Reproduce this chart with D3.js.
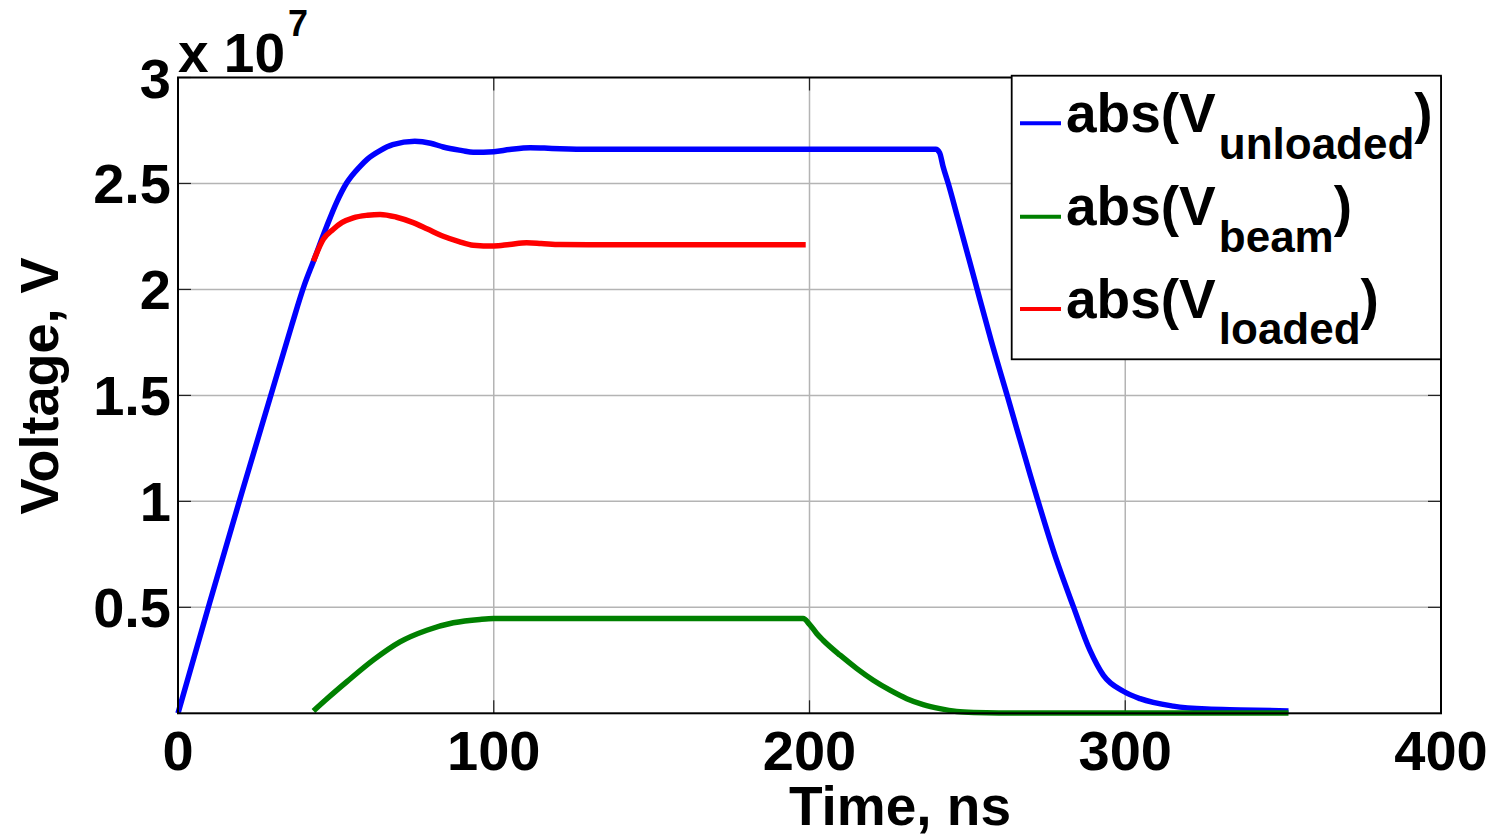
<!DOCTYPE html>
<html>
<head>
<meta charset="utf-8">
<script src="https://cdn.jsdelivr.net/npm/d3@7"></script>
<style>
  html, body { margin: 0; padding: 0; background: #fff; }
  svg { display: block; }
  text { font-family: "Liberation Sans", Arial, sans-serif; font-weight: bold; fill: #000; }
</style>
</head>
<body>
<svg id="chart" width="1497" height="837"></svg>
<script>
// Voltages are in units of 1e7 V, time in ns.
const tUnloaded = [0, 10, 20, 30, 36, 40, 42.9, 47.1, 50.2, 53.4, 57.6, 60, 64, 68, 75, 80, 84, 90, 93.5, 100, 105, 111.5, 116, 121, 130, 240, 241.2, 242.3, 243.9, 246.9, 252.2, 257.5, 262.8, 270, 278.3, 283.6, 288.8, 293.1, 299.4, 304.7, 315.2, 325.8, 336.4, 351.7];
const vUnloaded = [0, 0.52, 1.03, 1.53, 1.83, 2.02, 2.133, 2.298, 2.41, 2.502, 2.58, 2.615, 2.655, 2.683, 2.699, 2.69, 2.672, 2.655, 2.647, 2.65, 2.66, 2.669, 2.667, 2.664, 2.661, 2.661, 2.645, 2.58, 2.502, 2.34, 2.05, 1.76, 1.49, 1.12, 0.72, 0.502, 0.298, 0.179, 0.104, 0.069, 0.034, 0.020, 0.016, 0.011];

const tBeam = [42.9, 47, 53.4, 61.9, 70.3, 78.8, 87.2, 95.6, 100, 150, 198, 200, 202.3, 204.3, 209.7, 215, 220.2, 225.5, 230.8, 236, 241.3, 246.6, 252, 260, 300, 351.7];
const vBeam = [0.011, 0.066, 0.148, 0.252, 0.337, 0.392, 0.427, 0.443, 0.447, 0.447, 0.447, 0.42, 0.376, 0.345, 0.274, 0.211, 0.156, 0.109, 0.069, 0.041, 0.022, 0.009, 0.004, 0.002, 0.002, 0.002];

const tLoaded = [42.9, 46, 49.1, 52, 55.5, 60, 64, 69, 74.5, 79, 84, 89, 93.5, 100, 105, 110.4, 115, 121, 130, 198.8];
const vLoaded = [2.133, 2.236, 2.283, 2.316, 2.338, 2.35, 2.354, 2.342, 2.315, 2.285, 2.251, 2.226, 2.209, 2.205, 2.212, 2.22, 2.217, 2.212, 2.211, 2.211];

const xTicks = [0, 100, 200, 300, 400];
const yTicks = [0.5, 1, 1.5, 2, 2.5, 3];
const yTickLabels = ["0.5", "1", "1.5", "2", "2.5", "3"];

const seriesNames = ["unloaded", "beam", "loaded"];
const seriesColors = ["#0000ff", "#008000", "#ff0000"];

const series = [
  { name: seriesNames[0], color: seriesColors[0], pts: tUnloaded.map((t, i) => [t, vUnloaded[i]]) },
  { name: seriesNames[1], color: seriesColors[1], pts: tBeam.map((t, i) => [t, vBeam[i]]) },
  { name: seriesNames[2], color: seriesColors[2], pts: tLoaded.map((t, i) => [t, vLoaded[i]]) }
];

const svg = d3.select("#chart");
const plotL = 178, plotR = 1441, plotT = 77.5, plotB = 713.3;

const x = d3.scaleLinear().domain([0, 400]).range([plotL, plotR]);
const y = d3.scaleLinear().domain([0, 3]).range([plotB, plotT]);

// plot background
svg.append("rect").attr("x", plotL).attr("y", plotT)
  .attr("width", plotR - plotL).attr("height", plotB - plotT).attr("fill", "#fff");

// grid
const grid = svg.append("g").attr("stroke", "#b4b4b4").attr("stroke-width", 1.5);
grid.selectAll("line.gx").data(xTicks.slice(1, -1)).join("line")
  .attr("x1", d => x(d)).attr("x2", d => x(d)).attr("y1", plotT).attr("y2", plotB);
grid.selectAll("line.gy").data(yTicks.slice(0, -1)).join("line")
  .attr("x1", plotL).attr("x2", plotR).attr("y1", d => y(d)).attr("y2", d => y(d));

// inward ticks on all four sides
const tickLen = 13;
const ticks = svg.append("g").attr("stroke", "#222").attr("stroke-width", 1.2);
xTicks.forEach(v => {
  ticks.append("line").attr("x1", x(v)).attr("x2", x(v)).attr("y1", plotB).attr("y2", plotB - tickLen);
  ticks.append("line").attr("x1", x(v)).attr("x2", x(v)).attr("y1", plotT).attr("y2", plotT + tickLen);
});
yTicks.forEach(v => {
  ticks.append("line").attr("x1", plotL).attr("x2", plotL + tickLen).attr("y1", y(v)).attr("y2", y(v));
  ticks.append("line").attr("x1", plotR).attr("x2", plotR - tickLen).attr("y1", y(v)).attr("y2", y(v));
});

// curves
const line = d3.line().x(d => x(d[0])).y(d => y(d[1])).curve(d3.curveMonotoneX);
svg.append("g").selectAll("path").data(series).join("path")
  .attr("d", d => line(d.pts))
  .attr("fill", "none")
  .attr("stroke", d => d.color)
  .attr("stroke-width", 5.5)
  .attr("stroke-linejoin", "round")
  .attr("stroke-linecap", "butt");

// axes box
svg.append("rect").attr("x", plotL).attr("y", plotT)
  .attr("width", plotR - plotL).attr("height", plotB - plotT)
  .attr("fill", "none").attr("stroke", "#000").attr("stroke-width", 2);

// tick labels
svg.append("g").selectAll("text").data(xTicks).join("text")
  .attr("x", d => x(d)).attr("y", 770)
  .attr("text-anchor", "middle").attr("font-size", 56)
  .text(d => d);
svg.append("g").selectAll("text").data(yTicks).join("text")
  .attr("x", 171).attr("y", d => y(d) + 20)
  .attr("text-anchor", "end").attr("font-size", 56)
  .text((d, i) => yTickLabels[i]);

// exponent
const expo = svg.append("text").attr("x", 178).attr("y", 71.5).attr("font-size", 55);
expo.append("tspan").text("x 10");
expo.append("tspan").attr("font-size", 36).attr("dy", -36).attr("dx", 3).text("7");

// axis titles
svg.append("text").attr("x", 900).attr("y", 825).attr("text-anchor", "middle")
  .attr("font-size", 55).text("Time, ns");
svg.append("text").attr("transform", "translate(58,386) rotate(-90)")
  .attr("text-anchor", "middle").attr("font-size", 54).text("Voltage, V");

// legend
const lg = svg.append("g");
lg.append("rect").attr("x", 1011.7).attr("y", 75.7)
  .attr("width", 1441 - 1011.7).attr("height", 359.3 - 75.7)
  .attr("fill", "#fff").attr("stroke", "#000").attr("stroke-width", 1.8);
const rowY = [123.3, 216.7, 309];
series.forEach((s, i) => {
  const ly = rowY[i];
  lg.append("line").attr("x1", 1020).attr("x2", 1061).attr("y1", ly).attr("y2", ly)
    .attr("stroke", s.color).attr("stroke-width", 4);
  const t = lg.append("text").attr("x", 1066).attr("y", ly + 8.5).attr("font-size", 55);
  t.append("tspan").text("abs(V");
  t.append("tspan").attr("font-size", 44).attr("dy", 26.7).attr("dx", 3).text(s.name);
  t.append("tspan").attr("dy", -26.7).text(")");
});
</script>
</body>
</html>
